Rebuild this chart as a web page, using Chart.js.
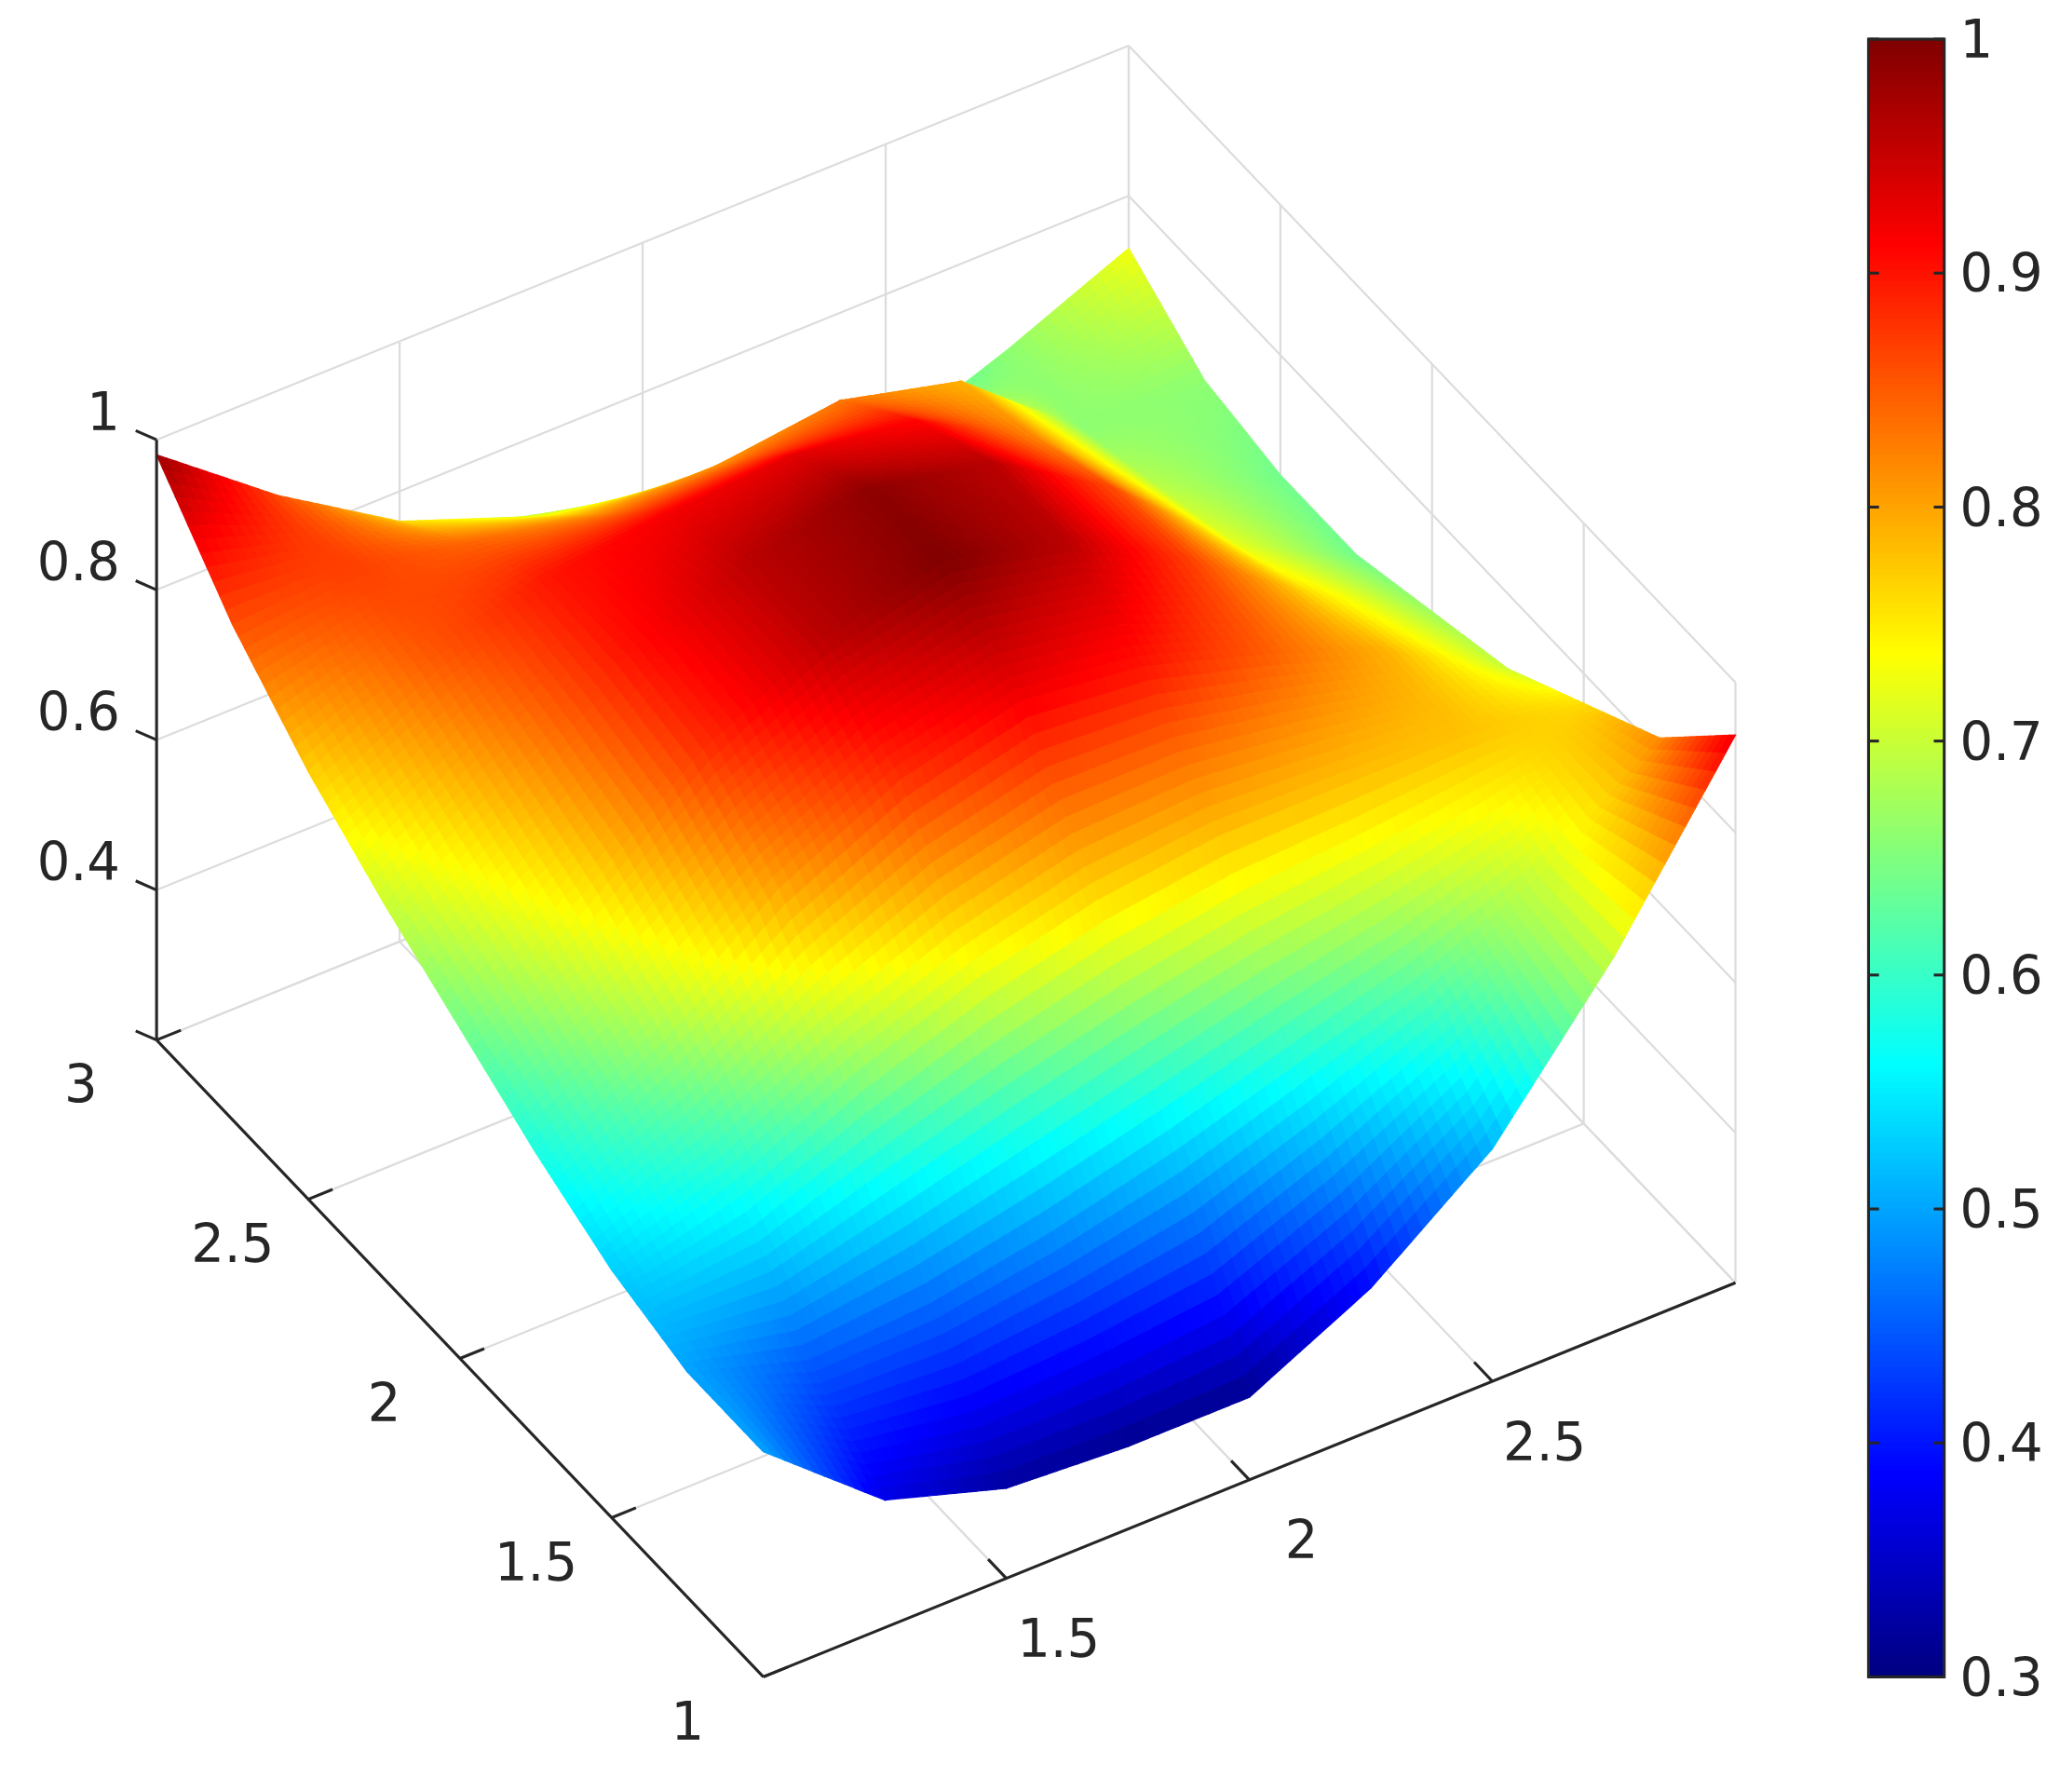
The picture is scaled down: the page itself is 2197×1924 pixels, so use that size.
<!DOCTYPE html>
<html>
<head>
<meta charset="utf-8">
<script src="https://cdn.jsdelivr.net/npm/chart.js@4"></script>
<style>
  html, body { margin: 0; padding: 0; background: #fff; }
  #wrap { width: 2197px; height: 1924px; }
</style>
</head>
<body>
<div id="wrap"><canvas id="surf"></canvas></div>
<script>
// grid of the surface
const xValues = [1, 1.25, 1.5, 1.75, 2, 2.25, 2.5, 2.75, 3];
const yValues = [1, 1.25, 1.5, 1.75, 2, 2.25, 2.5, 2.75, 3];
const zRow1 = [0.50, 0.37, 0.32, 0.31, 0.31, 0.39, 0.51, 0.70, 0.93]; // y = 1
const zRow2 = [0.50, 0.45, 0.46, 0.49, 0.53, 0.58, 0.63, 0.70, 0.82];
const zRow3 = [0.53, 0.58, 0.66, 0.72, 0.76, 0.78, 0.78, 0.78, 0.76];
const zRow4 = [0.58, 0.68, 0.80, 0.88, 0.92, 0.90, 0.85, 0.79, 0.70];
const zRow5 = [0.64, 0.75, 0.88, 0.96, 1.00, 0.96, 0.87, 0.76, 0.67];
const zRow6 = [0.70, 0.80, 0.90, 0.96, 0.99, 0.96, 0.86, 0.72, 0.64];
const zRow7 = [0.77, 0.85, 0.90, 0.92, 0.93, 0.91, 0.82, 0.69, 0.64];
const zRow8 = [0.86, 0.87, 0.84, 0.81, 0.81, 0.83, 0.79, 0.66, 0.66];
const zRow9 = [0.98, 0.86, 0.76, 0.70, 0.66, 0.62, 0.60, 0.66, 0.73]; // y = 3
const zRows = [zRow1, zRow2, zRow3, zRow4, zRow5, zRow6, zRow7, zRow8, zRow9];

const xTicks = [1.5, 2, 2.5];
const yTicks = [1, 1.5, 2, 2.5, 3];
const zTicks = [0.4, 0.6, 0.8, 1];
const gridTicks = [1, 1.5, 2, 2.5, 3];
const zGrid = [0.2, 0.4, 0.6, 0.8, 1];
const cbarTicks = [0.3, 0.4, 0.5, 0.6, 0.7, 0.8, 0.9, 1];
const cMin = 0.3, cMax = 1;
const zFloor = 0.2;

// view: screen units of the scales (picture coords)
function proj(x, y, z) {
  return {
    sx: 585 + (x - 1) * 372.5 - (y - 1) * 232.5,
    sy: 1285 - (x - 1) * 151 - (y - 1) * 244 - (z - zFloor) * 575
  };
}

function jet(v) {
  let t = (v - cMin) / (cMax - cMin);
  t = Math.max(0, Math.min(1, t));
  const f = (c) => Math.max(0, Math.min(1, c));
  const r = f(Math.min(4 * t - 1.5, -4 * t + 4.5));
  const g = f(Math.min(4 * t - 0.5, -4 * t + 3.5));
  const b = f(Math.min(4 * t + 0.5, -4 * t + 2.5));
  return `rgb(${Math.round(r * 255)},${Math.round(g * 255)},${Math.round(b * 255)})`;
}

function zAt(i, j, u, v) {
  // bilinear inside cell i,j
  const a = zRows[j][i], b = zRows[j][i + 1], c = zRows[j + 1][i], d = zRows[j + 1][i + 1];
  return a * (1 - u) * (1 - v) + b * u * (1 - v) + c * (1 - u) * v + d * u * v;
}

const surfacePlugin = {
  id: "surface",
  beforeDatasetsDraw(chart) {
    const ctx = chart.ctx;
    const xs = chart.scales.x, ys = chart.scales.y;
    const S = xs.getPixelForValue(1) - xs.getPixelForValue(0);
    const P = (x, y, z) => {
      const p = proj(x, y, z);
      return [xs.getPixelForValue(p.sx), ys.getPixelForValue(p.sy)];
    };
    const line = (a, b, color, w) => {
      ctx.beginPath();
      ctx.moveTo(a[0], a[1]);
      ctx.lineTo(b[0], b[1]);
      ctx.strokeStyle = color;
      ctx.lineWidth = w;
      ctx.stroke();
    };
    ctx.save();
    const gridCol = "#dcdcdc";
    const gw = 1.6 * S;
    // back wall y = 3
    gridTicks.forEach(t => line(P(t, 3, zFloor), P(t, 3, 1), gridCol, gw));
    zGrid.forEach(z => line(P(1, 3, z), P(3, 3, z), gridCol, gw));
    // back wall x = 3
    gridTicks.forEach(t => line(P(3, t, zFloor), P(3, t, 1), gridCol, gw));
    zGrid.forEach(z => line(P(3, 1, z), P(3, 3, z), gridCol, gw));
    // floor
    gridTicks.forEach(t => {
      line(P(t, 1, zFloor), P(t, 3, zFloor), gridCol, gw);
      line(P(1, t, zFloor), P(3, t, zFloor), gridCol, gw);
    });

    // surface, far to near
    const N = 12;
    const quads = [];
    for (let j = 0; j < yValues.length - 1; j++) {
      for (let i = 0; i < xValues.length - 1; i++) {
        const dx = xValues[i + 1] - xValues[i], dy = yValues[j + 1] - yValues[j];
        for (let m = 0; m < N; m++) {
          for (let n = 0; n < N; n++) {
            const u0 = n / N, u1 = (n + 1) / N, v0 = m / N, v1 = (m + 1) / N;
            const x0 = xValues[i] + u0 * dx, x1 = xValues[i] + u1 * dx;
            const y0 = yValues[j] + v0 * dy, y1 = yValues[j] + v1 * dy;
            quads.push({
              depth: x0 + x1 + y0 + y1,
              pts: [P(x0, y0, zAt(i, j, u0, v0)), P(x1, y0, zAt(i, j, u1, v0)),
                    P(x1, y1, zAt(i, j, u1, v1)), P(x0, y1, zAt(i, j, u0, v1))],
              c: jet(zAt(i, j, (u0 + u1) / 2, (v0 + v1) / 2))
            });
          }
        }
      }
    }
    quads.sort((a, b) => b.depth - a.depth);
    quads.forEach(q => {
      ctx.beginPath();
      ctx.moveTo(q.pts[0][0], q.pts[0][1]);
      for (let k = 1; k < 4; k++) ctx.lineTo(q.pts[k][0], q.pts[k][1]);
      ctx.closePath();
      ctx.fillStyle = q.c;
      ctx.strokeStyle = q.c;
      ctx.lineWidth = 1.2;
      ctx.fill();
      ctx.stroke();
    });

    // axes
    const axCol = "#262626";
    const aw = 2.2 * S;
    line(P(1, 3, zFloor), P(1, 3, 1), axCol, aw);
    line(P(1, 1, zFloor), P(1, 3, zFloor), axCol, aw);
    line(P(1, 1, zFloor), P(3, 1, zFloor), axCol, aw);
    ctx.font = `${40 * S}px "DejaVu Sans", sans-serif`;
    ctx.fillStyle = axCol;
    // z ticks
    ctx.textAlign = "right";
    ctx.textBaseline = "middle";
    zTicks.concat([zFloor]).forEach(z => {
      const a = P(1, 3, z);
      line(a, [a[0] - 16 * S, a[1] - 7 * S], axCol, aw);
    });
    zTicks.forEach(z => {
      const a = P(1, 3, z);
      ctx.fillText(String(z), a[0] - 28 * S, a[1] - 18 * S);
    });
    // y ticks (left front edge)
    ctx.textAlign = "center";
    yTicks.forEach(t => {
      const a = P(1, t, zFloor), b = P(1.05, t, zFloor);
      line(a, b, axCol, aw);
      ctx.fillText(String(t), a[0] - 58 * S, a[1] + 38 * S);
    });
    // x ticks (right front edge)
    xTicks.forEach(t => {
      const a = P(t, 1, zFloor), b = P(t, 1.06, zFloor);
      line(a, b, axCol, aw);
      ctx.fillText(String(t), a[0] + 40 * S, a[1] + 50 * S);
    });

    // colorbar
    const cx0 = xs.getPixelForValue(1432), cx1 = xs.getPixelForValue(1490);
    const cyTop = ys.getPixelForValue(30), cyBot = ys.getPixelForValue(1285);
    const steps = 300;
    for (let k = 0; k < steps; k++) {
      const v = cMin + (cMax - cMin) * (k + 0.5) / steps;
      const yA = cyBot - (cyBot - cyTop) * k / steps;
      const yB = cyBot - (cyBot - cyTop) * (k + 1) / steps;
      ctx.fillStyle = jet(v);
      ctx.fillRect(cx0, yB, cx1 - cx0, yA - yB + 1);
    }
    ctx.strokeStyle = axCol;
    ctx.lineWidth = aw;
    ctx.strokeRect(cx0, cyTop, cx1 - cx0, cyBot - cyTop);
    ctx.textAlign = "left";
    ctx.fillStyle = axCol;
    cbarTicks.forEach(t => {
      const yy = cyBot - (cyBot - cyTop) * (t - cMin) / (cMax - cMin);
      line([cx0, yy], [cx0 + 8 * S, yy], axCol, aw);
      line([cx1, yy], [cx1 - 8 * S, yy], axCol, aw);
      ctx.fillText(String(t), cx1 + 12 * S, yy + 4 * S);
    });
    ctx.restore();
  }
};

new Chart(document.getElementById("surf"), {
  type: "scatter",
  data: { datasets: [{ data: [], pointRadius: 0 }] },
  options: {
    responsive: true,
    maintainAspectRatio: false,
    animation: false,
    layout: { padding: 0 },
    plugins: { legend: { display: false }, tooltip: { enabled: false } },
    scales: {
      x: { type: "linear", min: 0, max: 1568, display: false },
      y: { type: "linear", min: 0, max: 1373.2, reverse: true, display: false }
    }
  },
  plugins: [surfacePlugin]
});
</script>
</body>
</html>
